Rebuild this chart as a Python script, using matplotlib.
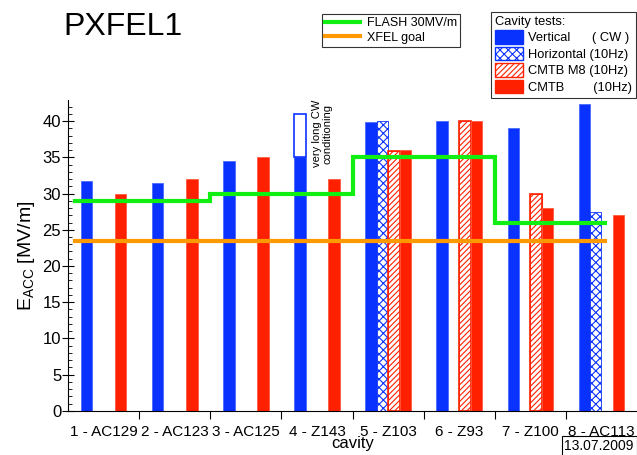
import matplotlib
matplotlib.use('Agg')
import matplotlib.pyplot as plt
from matplotlib.patches import Patch
from matplotlib.lines import Line2D
import numpy as np

plt.rcParams['font.family'] = ['Liberation Sans', 'DejaVu Sans']
plt.rcParams['hatch.linewidth'] = 0.8

cavities = ['1 - AC129', '2 - AC123', '3 - AC125', '4 - Z143',
            '5 - Z103', '6 - Z93', '7 - Z100', '8 - AC113']
vertical = [31.7, 31.5, 34.5, 35.0, 39.9, 40.0, 39.1, 42.4]
horizontal = [np.nan, np.nan, np.nan, np.nan, 40.0, np.nan, np.nan, 27.4]
cmtb_m8 = [np.nan, np.nan, np.nan, np.nan, 35.9, 40.0, 29.9, np.nan]
cmtb = [30.0, 32.0, 35.0, 32.0, 36.0, 40.0, 28.0, 27.0]
long_cw = [35.0, 41.0]  # open bar on cavity 4
flash = [29, 29, 30, 30, 35, 35, 26, 26]
xfel_goal = 23.5

blue = '#0A32FF'
red = '#FF2000'
green = '#11EE11'
orange = '#FF9900'

fig = plt.figure(figsize=(6.37, 4.55), dpi=100)
ax = fig.add_axes([0.107, 0.097, 0.893, 0.683])

x = np.arange(len(cavities)) + 0.5
w = 0.16
ax.bar(x - 0.24, vertical, w, color=blue, edgecolor='#4A6AFF', linewidth=0.6)
ax.bar(x - 0.08, horizontal, w, color='white', edgecolor=blue, hatch='xxxx', linewidth=0.6)
ax.bar(x + 0.08, cmtb_m8, w, color='white', edgecolor=red, hatch='//////', linewidth=0.6)
ax.bar(x + 0.08, cmtb_m8, w, color='none', edgecolor=red, linewidth=1.2)
ax.bar(x + 0.24, cmtb, w, color=red, edgecolor='#FF5A40', linewidth=0.6)

# long CW conditioning open bar
ax.bar(x[3] - 0.24, long_cw[1] - long_cw[0], w, bottom=long_cw[0],
       color='white', edgecolor=blue, linewidth=1.2)
ax.text(x[3] + 0.07, 42.9, 'very long CW\nconditioning', rotation=90, fontsize=8,
        va='top', ha='center', linespacing=1.0)

# FLASH step line
edges = [0.1, 2, 4, 6, 7.55]
fx, fy = [], []
levels = [flash[0], flash[2], flash[4], flash[6]]
for i, lv in enumerate(levels):
    fx += [edges[i], edges[i + 1]]
    fy += [lv, lv]
ax.plot(fx, fy, color=green, lw=3, solid_joinstyle='miter')
ax.plot([0.1, 7.55], [xfel_goal, xfel_goal], color=orange, lw=3)

ax.set_xlim(0, 8)
ax.set_ylim(0, 42.9)
ax.spines['top'].set_visible(False)
ax.spines['right'].set_visible(False)
ax.set_xticks(np.arange(1, 8))
ax.set_xticklabels([])
ax.set_xticks(x, minor=True)
ax.set_xticklabels(cavities, minor=True, fontsize=11)
ax.tick_params(axis='x', which='major', direction='out', length=6)
ax.tick_params(axis='x', which='minor', length=0, pad=10)
ax.set_yticks(np.arange(0, 41, 5))
ax.set_yticks(np.arange(0, 43, 1), minor=True)
ax.tick_params(axis='y', which='major', direction='inout', length=8, labelsize=12, pad=1)
ax.tick_params(axis='y', which='minor', direction='in', length=3)
ax.set_xlabel('cavity', fontsize=12, labelpad=-2)
ax.set_ylabel(r'E$_{\mathregular{ACC}}$ [MV/m]', fontsize=14, labelpad=4)

fig.text(0.10, 0.94, 'PXFEL1', fontsize=23, va='center')

leg1 = fig.legend([Line2D([], [], color=green, lw=3), Line2D([], [], color=orange, lw=3)],
                  ['FLASH 30MV/m', 'XFEL goal'], loc='upper left',
                  bbox_to_anchor=(0.506, 0.969), fontsize=9, frameon=True,
                  fancybox=False, edgecolor='black', handlelength=2.8,
                  borderpad=0.25, labelspacing=0.2, handletextpad=0.5, borderaxespad=0)
leg1.get_frame().set_linewidth(0.8)

handles = [Patch(facecolor=blue, edgecolor=blue),
           Patch(facecolor='white', edgecolor=blue, hatch='xxxx'),
           Patch(facecolor='white', edgecolor=red, hatch='//////'),
           Patch(facecolor=red, edgecolor=red)]
labels = ['Vertical      ( CW )', 'Horizontal (10Hz)', 'CMTB M8 (10Hz)', 'CMTB        (10Hz)']
leg2 = fig.legend(handles, labels, title='Cavity tests:', loc='upper right',
                  bbox_to_anchor=(0.999, 0.974), fontsize=9.3, title_fontsize=9.3,
                  frameon=True, fancybox=False, edgecolor='black',
                  handlelength=2.2, handleheight=1.2, borderpad=0.3,
                  labelspacing=0.2, handletextpad=0.4, borderaxespad=0)
leg2._legend_box.align = 'left'
leg2.get_frame().set_linewidth(0.8)

fig.text(0.995, 0.005, '13.07.2009', fontsize=10, ha='right', va='bottom',
         bbox=dict(facecolor='white', edgecolor='black', boxstyle='square,pad=0.2', lw=0.8))

fig.savefig('out.png', dpi=100)
